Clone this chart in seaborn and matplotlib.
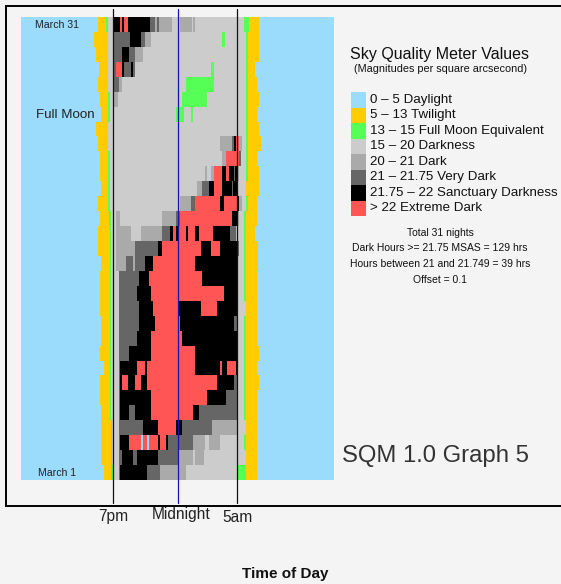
import numpy as np
import pandas as pd
import matplotlib
matplotlib.use("Agg")
import matplotlib.pyplot as plt
import seaborn as sns
from matplotlib.colors import ListedColormap
from matplotlib.patches import Rectangle
from matplotlib.lines import Line2D

sns.set_theme(style="white")
plt.rcParams["font.family"] = ["Liberation Sans", "DejaVu Sans"]

# ---- sky quality classes (mag / arcsec^2) ----
class_labels = [
    "0 – 5 Daylight",
    "5 – 13 Twilight",
    "13 – 15 Full Moon Equivalent",
    "15 – 20 Darkness",
    "20 – 21 Dark",
    "21 – 21.75 Very Dark",
    "21.75 – 22 Sanctuary Darkness",
    "> 22 Extreme Dark",
]
class_colors = ["#9bdcfd", "#ffcc00", "#55ff55", "#cccccc",
                "#aaaaaa", "#666666", "#000000", "#ff5555"]

# ---- nightly logs: "clock=class" at each change, noon to noon ----
night_names = ["March 31", "March 30", "March 29", "March 28", "March 27",
               "March 26", "March 25", "March 24", "March 23", "March 22",
               "March 21", "March 20", "March 19", "March 18", "March 17",
               "March 16", "March 15", "March 14", "March 13", "March 12",
               "March 11", "March 10", "March 9", "March 8", "March 7",
               "March 6", "March 5", "March 4", "March 3", "March 2",
               "March 1"]

night_logs = [
    "12:00=0 17:55=1 18:30=2 18:40=3 19:05=6 19:35=7 19:45=6 19:55=7 20:10=6 21:55=5 22:15=4 22:25=5 22:35=4 23:35=3 00:10=4 01:05=3 01:10=4 01:20=3 05:05=2 05:30=1 06:15=0",
    "12:00=0 17:35=1 18:40=3 19:05=5 20:20=6 21:10=5 21:30=4 22:00=3 03:25=2 03:40=3 05:15=2 05:25=1 06:15=0",
    "12:00=0 17:45=1 18:40=3 19:05=5 19:45=6 20:15=5 20:45=4 21:20=3 05:15=2 05:25=1 06:15=0",
    "12:00=0 18:00=1 18:40=3 19:05=5 19:15=7 19:45=6 19:55=5 20:25=6 20:35=5 20:45=3 02:35=2 02:50=3 05:15=2 05:25=1 05:55=0",
    "12:00=0 17:55=1 18:40=3 19:05=5 19:30=4 19:45=3 00:40=2 02:50=3 05:15=2 05:25=1 06:05=0",
    "12:00=0 18:05=1 18:40=2 18:50=3 19:05=4 19:25=3 00:20=2 02:15=3 05:15=2 05:25=1 06:15=0",
    "12:00=0 18:10=1 18:40=2 18:50=3 23:55=2 00:30=3 01:00=2 01:10=3 05:15=2 05:25=1 06:05=0",
    "12:00=0 17:45=1 18:40=3 05:15=2 05:25=1 06:15=0",
    "12:00=0 17:55=1 18:40=3 03:15=4 04:10=5 04:20=6 04:30=7 04:45=4 04:55=3 05:15=2 05:25=1 06:25=0",
    "12:00=0 18:05=1 18:40=2 18:50=3 03:25=4 03:45=7 04:45=5 04:50=3 05:15=2 05:25=1 06:05=0",
    "12:00=0 18:05=1 18:40=2 18:50=3 02:05=4 02:15=3 02:35=4 02:50=7 03:25=6 03:45=7 03:55=6 04:20=5 04:25=6 04:35=4 04:45=3 05:15=2 05:25=1 06:15=0",
    "12:00=0 18:10=1 18:40=2 18:50=3 01:30=4 01:55=5 02:25=6 02:50=7 03:25=6 04:10=5 04:15=6 04:35=4 04:40=3 05:15=1 06:15=0",
    "12:00=0 17:55=1 18:40=2 18:50=3 00:10=4 01:00=5 01:20=7 03:15=6 03:35=7 04:35=6 04:45=4 04:55=3 05:15=2 05:25=1 06:05=0",
    "12:00=0 18:05=1 18:45=2 18:55=3 19:15=4 19:35=3 22:50=4 23:55=5 00:10=7 04:10=6 04:35=4 04:45=3 05:05=2 05:15=1 06:05=0",
    "12:00=0 17:55=1 18:50=2 18:55=3 19:15=4 20:25=3 21:10=4 22:50=5 23:25=6 23:40=7 23:55=6 00:05=7 00:40=6 00:50=7 01:20=6 01:40=7 02:45=6 04:00=5 04:30=3 05:05=2 05:15=1 05:55=0",
    "12:00=0 17:55=1 18:50=2 18:55=3 19:15=4 20:45=5 22:30=6 22:50=7 01:50=6 02:35=7 03:15=6 04:35=5 04:45=3 05:05=2 05:15=1 06:10=0",
    "12:00=0 18:10=1 18:50=2 18:55=3 19:15=4 20:05=5 20:35=4 20:45=5 21:30=6 22:05=7 01:20=6 04:35=3 05:05=2 05:15=1 06:10=0",
    "12:00=0 18:05=1 18:50=2 18:55=3 19:30=5 21:05=6 21:50=7 01:55=6 04:35=3 05:05=2 05:15=1 06:05=0",
    "12:00=0 18:05=1 18:50=2 18:55=3 19:30=5 20:55=6 22:00=7 03:35=6 04:35=3 05:05=2 05:15=1 06:05=0",
    "12:00=0 18:05=1 18:50=2 18:55=3 19:30=5 21:05=6 22:05=7 00:00=6 01:50=7 03:00=6 04:35=3 05:15=1 06:05=0",
    "12:00=0 18:10=1 18:50=2 18:55=3 19:30=5 21:05=6 22:15=7 00:10=6 04:20=5 04:35=3 05:05=2 05:15=1 06:05=0",
    "12:00=0 18:10=1 18:50=2 18:55=3 19:30=5 20:55=6 22:00=7 00:20=6 04:35=3 05:05=2 05:15=1 06:05=0",
    "12:00=0 18:05=1 18:50=2 18:55=3 19:30=5 20:15=6 22:00=7 01:20=6 04:35=3 05:05=2 05:15=1 06:15=0",
    "12:00=0 18:20=1 18:50=2 18:55=3 19:30=5 19:35=6 20:55=7 21:30=6 21:40=7 01:20=6 03:15=7 03:25=6 03:50=7 04:30=6 04:35=3 05:05=2 05:15=1 06:05=0",
    "12:00=0 18:05=1 18:50=2 18:55=3 19:30=5 19:35=6 19:45=7 20:10=6 20:45=7 21:10=6 21:40=7 03:00=6 04:20=5 04:35=3 05:05=2 05:15=1 06:15=0",
    "12:00=0 18:05=1 18:50=2 18:55=3 19:30=5 19:35=6 22:00=7 02:15=6 03:45=5 04:35=3 05:05=2 05:15=1 06:05=0",
    "12:00=0 18:10=1 18:50=2 18:55=3 19:30=5 19:35=6 20:15=5 20:45=6 22:00=7 01:10=6 01:40=5 04:35=3 05:05=2 05:15=1 06:05=0",
    "12:00=0 18:10=1 18:55=2 19:00=3 19:30=5 21:20=6 22:30=7 23:55=6 00:20=5 02:40=4 04:35=3 05:15=1 06:05=0",
    "12:00=0 18:10=1 18:55=2 19:00=3 19:30=5 19:35=6 20:15=7 21:10=0 21:20=7 21:40=0 21:50=7 22:30=6 22:40=7 23:05=6 23:15=5 01:10=4 02:05=3 02:25=4 03:15=3 05:05=2 05:15=1 06:05=0",
    "12:00=0 18:10=1 18:55=2 19:00=3 19:30=5 19:45=6 20:35=5 20:55=6 22:30=5 00:00=4 01:10=3 01:20=4 02:00=3 05:15=1 06:05=0",
    "12:00=0 18:20=1 18:55=2 19:05=3 19:30=5 19:35=6 21:40=5 22:40=4 00:40=3 04:35=2 05:15=1 06:05=0",
]

summary_lines = ["Total 31 nights",
                 "Dark Hours >= 21.75 MSAS = 129 hrs",
                 "Hours between 21 and 21.749 = 39 hrs",
                 "Offset = 0.1"]

# marker clock times for the time-of-day guide lines
guide_times = ["19:05", "00:00", "04:35"]
guide_labels = ["7pm", "Midnight", "5am"]

BIN_MIN = 5
N_BINS = 24 * 60 // BIN_MIN


def minutes_after_noon(clock):
    h, m = (int(v) for v in clock.split(":"))
    return (h * 60 + m - 720) % 1440


def expand(log):
    starts, codes = [], []
    for tok in log.split():
        clock, code = tok.split("=")
        starts.append(minutes_after_noon(clock))
        codes.append(int(code))
    centers = np.arange(N_BINS) * BIN_MIN + BIN_MIN / 2
    idx = np.searchsorted(np.array(starts), centers, side="right") - 1
    return np.array(codes)[idx]


grid = pd.DataFrame([expand(s) for s in night_logs], index=night_names)

W, H = 561, 584
fig = plt.figure(figsize=(W / 100, H / 100), dpi=100, facecolor="#f4f4f4")


def fx(x):
    return x / W


def fy(y):
    return 1 - y / H


ax = fig.add_axes([fx(21), fy(480), 313 / W, 463 / H])
sns.heatmap(grid, ax=ax, cmap=ListedColormap(class_colors), vmin=-0.5, vmax=7.5,
            cbar=False, xticklabels=False, yticklabels=False, linewidths=0,
            rasterized=True)
ax.set_xlabel("")
ax.set_ylabel("")

# guide lines reaching above and below the grid
guide_colors = ["#111111", "#1414b4", "#111111"]
for t, c in zip(guide_times, guide_colors):
    xv = minutes_after_noon(t) / BIN_MIN
    ax.axvline(xv, ymin=-0.049, ymax=1.017, color=c, lw=0.9, clip_on=False, zorder=5)

label_pos = [(113, 516), (181, 515), (237, 518)]
for lab, (x, y) in zip(guide_labels, label_pos):
    fig.text(fx(x), fy(y), lab, ha="center", va="center", fontsize=11.2, color="#222222")

fig.text(fx(285), fy(574), "Time of Day", ha="center", va="center",
         fontsize=11, fontweight="bold", color="#111111")

fig.text(fx(57), fy(24.5), night_names[0], ha="center", va="center", fontsize=7.6, color="#222222")
fig.text(fx(57), fy(472.5), night_names[-1], ha="center", va="center", fontsize=7.6, color="#222222")
fig.text(fx(65), fy(114.5), "Full Moon", ha="center", va="center", fontsize=9.6, color="#222222")

# legend block
fig.text(fx(440), fy(54.5), "Sky Quality Meter Values", ha="center", va="center",
         fontsize=11.5, color="#111111")
fig.text(fx(440), fy(69), "(Magnitudes per square arcsecond)", ha="center", va="center",
         fontsize=7.8, color="#111111")
sw_top, sw_h = 92.3, 15.46
for i, (lab, col) in enumerate(zip(class_labels, class_colors)):
    y0 = sw_top + i * sw_h
    fig.add_artist(Rectangle((fx(351), fy(y0 + sw_h)), 15 / W, sw_h / H,
                             transform=fig.transFigure, facecolor=col, edgecolor="none"))
    fig.text(fx(370), fy(y0 + sw_h / 2), lab, ha="left", va="center",
             fontsize=9.6, color="#111111")

for i, line in enumerate(summary_lines):
    fig.text(fx(440), fy(232.5 + i * 15.7), line, ha="center", va="center",
             fontsize=7.5, color="#111111")

fig.text(fx(436), fy(456), "SQM 1.0 Graph 5", ha="center", va="center",
         fontsize=17.2, color="#333333")

# outer frame
lw = 1.4
fig.add_artist(Line2D([fx(5.8), fx(5.8)], [fy(5.8), fy(505.8)], color="black", lw=lw,
                      transform=fig.transFigure))
fig.add_artist(Line2D([fx(5.8), fx(570)], [fy(5.8), fy(5.8)], color="black", lw=lw,
                      transform=fig.transFigure))
fig.add_artist(Line2D([fx(5.8), fx(570)], [fy(505.8), fy(505.8)], color="black", lw=lw,
                      transform=fig.transFigure))

fig.savefig("out.png", dpi=100, facecolor=fig.get_facecolor())
